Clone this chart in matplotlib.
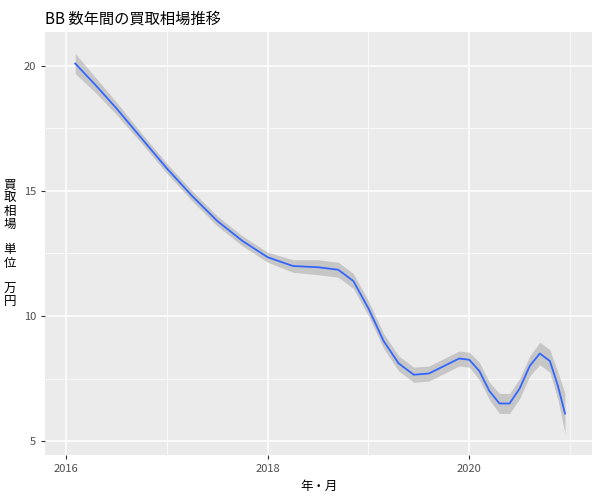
import matplotlib.pyplot as plt
import numpy as np

plt.rcParams['font.family'] = ['Noto Sans CJK JP', 'DejaVu Sans']

# smoothed price and half-width of confidence band
years = [2016.09, 2016.3, 2016.5, 2016.75, 2017.0, 2017.25, 2017.5, 2017.75, 2018.0,
         2018.25, 2018.5, 2018.7, 2018.85, 2019.0, 2019.15, 2019.3, 2019.45, 2019.6,
         2019.75, 2019.9, 2020.0, 2020.1, 2020.2, 2020.3, 2020.4, 2020.5, 2020.6,
         2020.7, 2020.8, 2020.88, 2020.95]
price = [20.1, 19.2, 18.3, 17.1, 15.9, 14.8, 13.8, 13.0, 12.35,
         12.0, 11.95, 11.85, 11.4, 10.3, 9.0, 8.1, 7.65, 7.7,
         8.0, 8.3, 8.25, 7.8, 7.0, 6.5, 6.5, 7.1, 8.0,
         8.5, 8.2, 7.2, 6.1]
band = [0.4, 0.3, 0.25, 0.2, 0.2, 0.2, 0.2, 0.2, 0.2,
        0.25, 0.3, 0.3, 0.3, 0.3, 0.3, 0.3, 0.3, 0.3,
        0.3, 0.3, 0.3, 0.35, 0.35, 0.4, 0.4, 0.4, 0.4,
        0.45, 0.45, 0.55, 0.8]

p = np.array(price)
b = np.array(band)

fig, ax = plt.subplots(figsize=(6, 5), dpi=100)
fig.subplots_adjust(left=0.075, right=0.987, top=0.936, bottom=0.09)
ax.set_facecolor('#EBEBEB')
ax.set_axisbelow(True)
ax.grid(which='major', color='white', linewidth=1.1)
ax.set_xticks([2016, 2017, 2018, 2019, 2020, 2021], minor=True)
ax.set_yticks([5, 7.5, 10, 12.5, 15, 17.5, 20], minor=True)
ax.grid(which='minor', color='white', linewidth=0.5)
ax.set_xticks([2016, 2018, 2020])
ax.set_xticklabels(['2016', '2018', '2020'])
ax.set_yticks([5, 10, 15, 20])
for s in ax.spines.values():
    s.set_visible(False)
ax.tick_params(which='both', length=3, color='#333333', labelcolor='#4D4D4D', labelsize=8)
ax.tick_params(which='minor', length=0)

ax.fill_between(years, p - b, p + b, color='#999999', alpha=0.45, linewidth=0)
ax.plot(years, price, color='#3366FF', linewidth=1.3)

ax.set_xlim(2015.79, 2021.22)
ax.set_ylim(4.44, 21.36)
ax.set_title('BB 数年間の買取相場推移', loc='left', fontsize=11)
ax.set_xlabel('年・月', fontsize=9)
ax.set_ylabel('買\n取\n相\n場\n\n単\n位\n\n万\n円', rotation=0, fontsize=9,
              va='center', labelpad=10, linespacing=1.0)

plt.savefig('out.png')
